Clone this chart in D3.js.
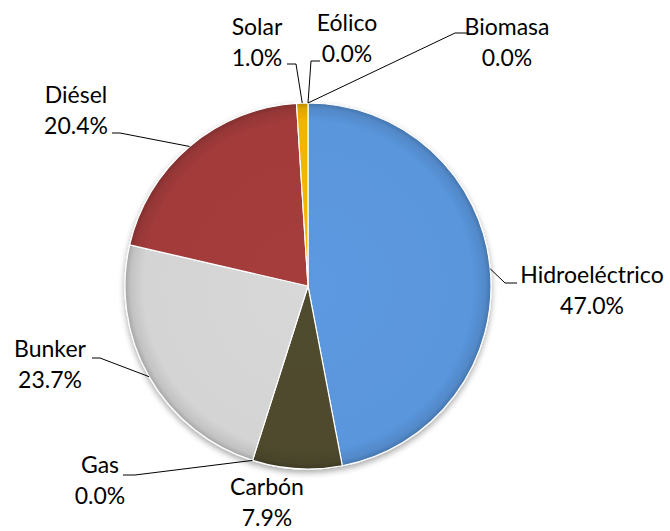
<!DOCTYPE html>
<html><head><meta charset="utf-8">
<script src="https://cdn.jsdelivr.net/npm/d3@7"></script>
<style>html,body{margin:0;padding:0;background:#fff;}</style>
</head><body>
<svg id="chart" width="670" height="531"></svg>
<script>
const categories = ["Hidroeléctrico","Carbón","Gas","Bunker","Diésel","Solar","Eólico","Biomasa"];
const values = [47.0, 7.9, 0.0, 23.7, 20.4, 1.0, 0.0, 0.0];
const colors = ["#5A96DC","#4F4A2E","#8C8C8C","#D4D4D4","#A33B3B","#F2B400","#7F7F7F","#999999"];
// label layout: text center (x, first baseline), leader start (where line leaves text), elbow
const labelLayout = [
  {tx:592, ty:283, lx:517, ly:283, ex:505, ey:283},
  {tx:267, ty:495, lx:null},
  {tx:100, ty:473, lx:123, ly:475, ex:135, ey:475},
  {tx:50,  ty:357, lx:92,  ly:358, ex:100, ey:358},
  {tx:76,  ty:103, lx:112, ly:133, ex:120, ey:133},
  {tx:257, ty:35,  lx:287, ly:64,  ex:296, ey:64},
  {tx:347, ty:31,  lx:320, ly:61,  ex:311, ey:61},
  {tx:507, ty:35,  lx:467, ly:33,  ex:455, ey:33}
];
const cx = 308, cy = 286, R = 183;
const fontSize = 23, lineH = 31;

const svg = d3.select("#chart");
const defs = svg.append("defs");
const data = categories.map((c,i)=>({name:c, value:values[i], color:colors[i], layout:labelLayout[i]}));

const pie = d3.pie().sort(null).value(d=>d.value).startAngle(0).endAngle(2*Math.PI);
const arcs = pie(data);
const arc = d3.arc().innerRadius(0).outerRadius(R);

// shadow filter
const f = defs.append("filter").attr("id","sh").attr("x","-20%").attr("y","-20%").attr("width","140%").attr("height","140%");
f.append("feGaussianBlur").attr("in","SourceAlpha").attr("stdDeviation",3).attr("result","b");
f.append("feOffset").attr("in","b").attr("dx",0).attr("dy",3).attr("result","o");
f.append("feComponentTransfer").attr("in","o").attr("result","o2").append("feFuncA").attr("type","linear").attr("slope",0.35);
const m = f.append("feMerge"); m.append("feMergeNode").attr("in","o2"); m.append("feMergeNode").attr("in","SourceGraphic");

data.forEach((d,i)=>{
  const c = d3.color(d.color);
  const g = defs.append("radialGradient").attr("id","g"+i).attr("gradientUnits","userSpaceOnUse")
    .attr("cx",0).attr("cy",0).attr("r",R);
  g.append("stop").attr("offset","0").attr("stop-color",c.brighter(0.05));
  g.append("stop").attr("offset","0.9").attr("stop-color",c);
  g.append("stop").attr("offset","0.97").attr("stop-color",c.darker(0.25));
  g.append("stop").attr("offset","1").attr("stop-color",c.darker(0.7));
});

const gPie = svg.append("g").attr("transform",`translate(${cx},${cy})`).attr("filter","url(#sh)");
gPie.selectAll("path").data(arcs.filter(a=>a.data.value>0)).join("path")
  .attr("d",arc)
  .attr("fill",(a)=>`url(#g${data.indexOf(a.data)})`)
  .attr("stroke","#fff").attr("stroke-width",1.2).attr("stroke-linejoin","round");

// leader lines
const lines = svg.append("g").attr("fill","none").attr("stroke","#000").attr("stroke-width",1);
arcs.forEach(a=>{
  const L = a.data.layout;
  if(L.lx==null) return;
  const mid = (a.startAngle+a.endAngle)/2;
  const px = cx + R*Math.sin(mid), py = cy - R*Math.cos(mid);
  lines.append("polyline").attr("points",`${L.lx},${L.ly} ${L.ex},${L.ey} ${px},${py}`);
});

// labels
const lab = svg.append("g").attr("font-family","Lato, 'Open Sans', sans-serif").attr("font-size",fontSize).attr("fill","#000").attr("text-anchor","middle");
arcs.forEach(a=>{
  const L = a.data.layout;
  const t = lab.append("text").attr("x",L.tx).attr("y",L.ty);
  t.append("tspan").attr("x",L.tx).text(a.data.name);
  t.append("tspan").attr("x",L.tx).attr("dy",lineH).text(d3.format(".1f")(a.data.value)+"%");
});
</script>
</body></html>
